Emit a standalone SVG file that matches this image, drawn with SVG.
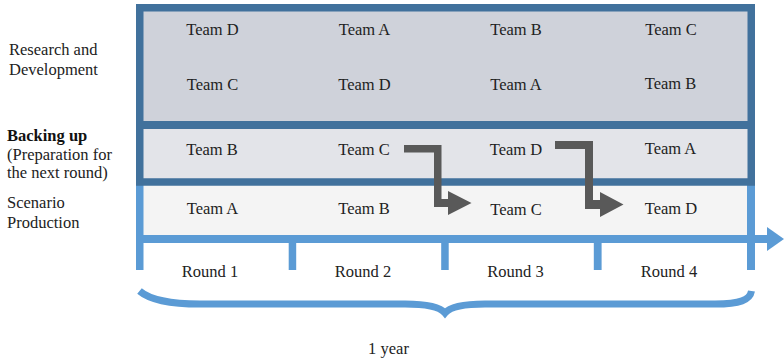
<svg xmlns="http://www.w3.org/2000/svg" width="784" height="359" viewBox="0 0 784 359">
  <style>
    text { font-family: "Liberation Serif", "Times New Roman", serif; font-size: 16.5px; fill: #222222; }
    .c { text-anchor: middle; }
    .b { font-weight: bold; fill: #111111; }
    .dark { fill: none; stroke: #41719c; }
    .light { fill: #5b9bd5; }
    .move { fill: #595959; }
  </style>

  <!-- row backgrounds -->
  <g id="rows">
    <rect x="143" y="11" width="605" height="111" fill="#cfd2da"/>
    <rect x="143" y="128" width="605" height="51" fill="#e3e4e9"/>
    <rect x="143" y="185" width="605" height="51" fill="#f4f4f4"/>
  </g>

  <!-- timeline frame: side posts, axis with arrowhead, round ticks -->
  <g id="timeline">
    <rect class="light" x="136" y="182" width="7.5" height="88"/>
    <rect class="light" x="747" y="182" width="8" height="88"/>
    <rect class="light" x="136" y="235" width="633" height="8"/>
    <polygon class="light" points="767,227 784,239 767,251"/>
    <rect class="light" x="288.7" y="242" width="7.5" height="28"/>
    <rect class="light" x="441.2" y="242" width="7.5" height="28"/>
    <rect class="light" x="593.8" y="242" width="7.8" height="28"/>
  </g>

  <!-- team blocks frame -->
  <g id="frame">
    <rect class="dark" x="139.75" y="7.75" width="611.5" height="174.25" stroke-width="7.5"/>
    <line class="dark" x1="136" y1="125" x2="755" y2="125" stroke-width="8"/>
  </g>

  <!-- side labels -->
  <g id="label-rd">
    <text x="9" y="55">Research and</text>
    <text x="9" y="75">Development</text>
  </g>
  <g id="label-backup">
    <text class="b" x="7" y="141">Backing up</text>
    <text x="7" y="159.5">(Preparation for</text>
    <text x="7" y="178">the next round)</text>
  </g>
  <g id="label-scenario">
    <text x="7" y="208">Scenario</text>
    <text x="7" y="228">Production</text>
  </g>

  <!-- research and development teams -->
  <g id="rd-teams">
    <text class="c" x="212.5" y="35">Team D</text>
    <text class="c" x="364.5" y="35">Team A</text>
    <text class="c" x="516" y="35">Team B</text>
    <text class="c" x="671" y="35">Team C</text>
    <text class="c" x="212.5" y="90">Team C</text>
    <text class="c" x="364.5" y="90">Team D</text>
    <text class="c" x="516" y="90">Team A</text>
    <text class="c" x="670.5" y="89">Team B</text>
  </g>

  <!-- backing up teams -->
  <g id="backup-teams">
    <text class="c" x="212" y="155">Team B</text>
    <text class="c" x="364" y="155">Team C</text>
    <text class="c" x="516" y="155">Team D</text>
    <text class="c" x="670.5" y="154">Team A</text>
  </g>

  <!-- scenario production teams -->
  <g id="scenario-teams">
    <text class="c" x="212.5" y="214">Team A</text>
    <text class="c" x="364" y="214">Team B</text>
    <text class="c" x="516" y="215">Team C</text>
    <text class="c" x="671" y="214">Team D</text>
  </g>

  <!-- hand-over arrows from backing up to production -->
  <g id="connectors">
    <polygon class="move" points="404,145 441.5,145 441.5,199 448,199 448,191 471.5,203 448,215 448,207 434,207 434,152.5 404,152.5"/>
    <polygon class="move" points="555,141 593,141 593,200 600,200 600,192 623.5,204.5 600,217 600,209 585,209 585,149 555,149"/>
  </g>

  <!-- round labels -->
  <g id="rounds">
    <text class="c" x="210" y="277">Round 1</text>
    <text class="c" x="363" y="277">Round 2</text>
    <text class="c" x="515.5" y="277">Round 3</text>
    <text class="c" x="669" y="277">Round 4</text>
  </g>

  <!-- year brace -->
  <g id="year">
    <path d="M 139.5,291 C 150,300 170,304 200,304 L 405,304 C 428,304 440,307 445,313 C 450,307 462,304 485,304 L 715,304 C 740,304 750,300 751.5,291" fill="none" stroke="#5b9bd5" stroke-width="7"/>
    <text class="c" x="388.5" y="354">1 year</text>
  </g>
</svg>
